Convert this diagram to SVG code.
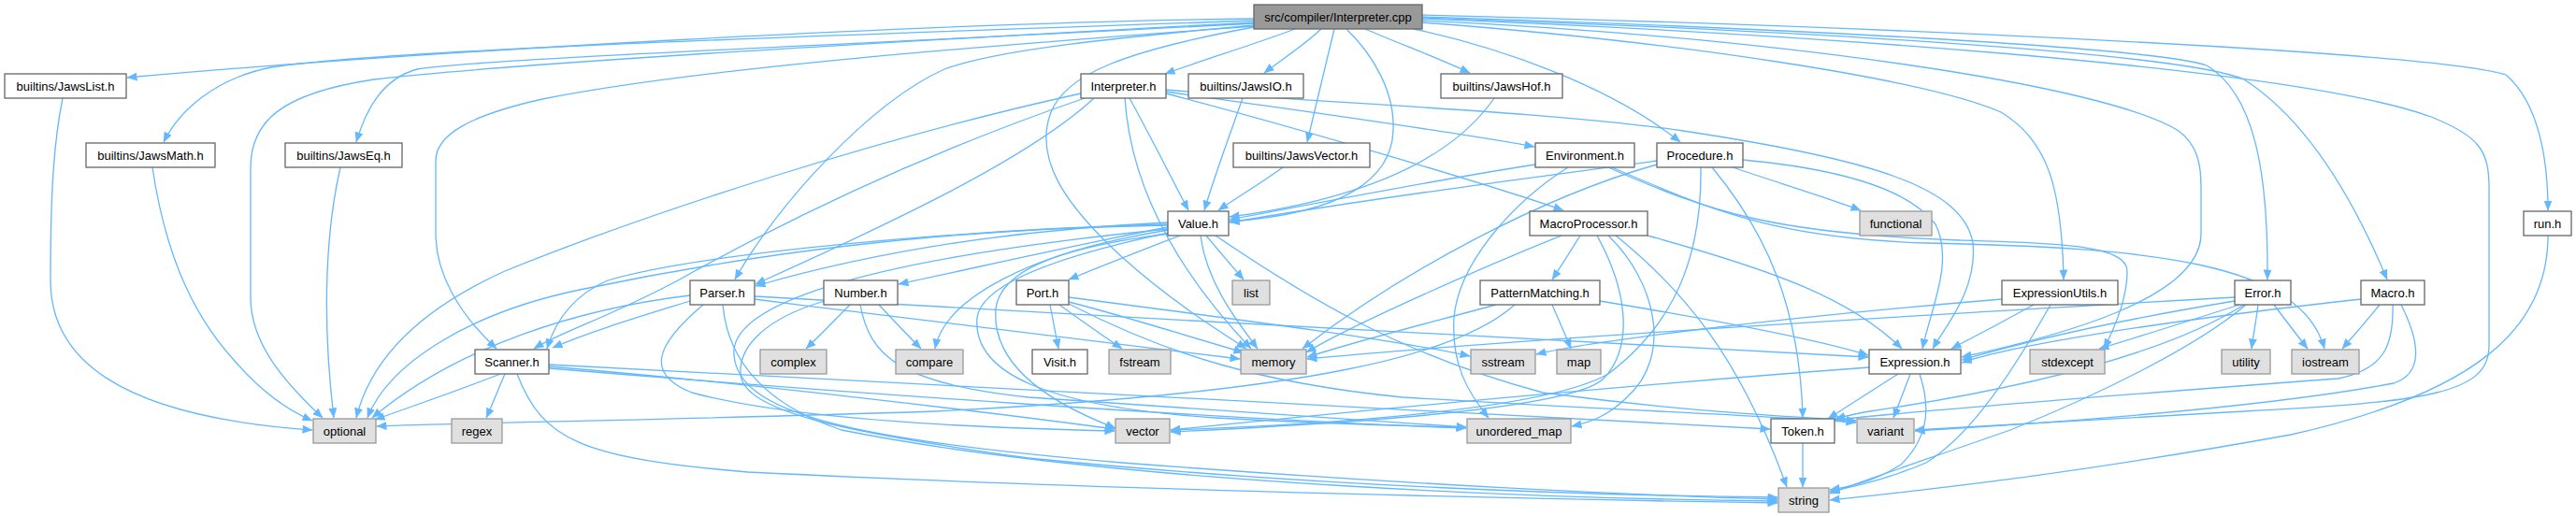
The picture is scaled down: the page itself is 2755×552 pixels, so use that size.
<svg xmlns="http://www.w3.org/2000/svg" width="2755" height="552" viewBox="0 0 2755 552">
<defs>
<style>
.n rect{fill:#ffffff;stroke:#666666;stroke-width:1.3}
.g rect{fill:#e0e0e0;stroke:#999999;stroke-width:1.3}
.r rect{fill:#999999;stroke:#666666;stroke-width:1.3}
text{font-family:"Liberation Sans",Arial,Helvetica,sans-serif;font-size:13px;text-anchor:middle;fill:#000000}
.e path{fill:none;stroke:#63b8ff;stroke-width:1.3;marker-end:url(#a)}
</style>
<marker id="a" viewBox="0 0 11 9" refX="10.5" refY="4.5" markerWidth="11" markerHeight="9" markerUnits="userSpaceOnUse" orient="auto"><path d="M0,0 L11,4.5 L0,9 z" fill="#63b8ff"/></marker>
</defs>
<rect width="2755" height="552" fill="#ffffff"/>
<g id="edges" class="e">
<path d="M1341,20 C1000,24 450,55 136,83"/>
<path d="M1341,22 C950,36 420,52 290,72 C230,84 192,118 175,152"/>
<path d="M1341,24 C1000,42 540,68 400,85 C300,100 268,130 268,180 L268,318 C268,365 300,405 345,447"/>
<path d="M1341,25 C1000,44 520,62 446,74 C410,84 392,115 381,152"/>
<path d="M1341,28 C1100,46 760,70 580,106 C500,124 466,145 466,172 L466,250 C466,292 490,335 531,373"/>
<path d="M1341,27 C1200,40 1070,52 1010,74 C930,110 830,220 786,299"/>
<path d="M1385,31 C1340,48 1290,63 1246,79"/>
<path d="M1413,31 C1395,48 1372,63 1352,78"/>
<path d="M1427,31 C1418,70 1408,110 1398,152"/>
<path d="M1440,31 C1470,60 1492,100 1490,140 C1488,190 1440,228 1315,237"/>
<path d="M1341,29 C1200,55 1140,80 1124,120 C1105,170 1140,220 1200,275 C1250,320 1300,352 1333,373"/>
<path d="M1460,31 C1500,48 1540,63 1572,78"/>
<path d="M1512,31 C1600,50 1720,90 1797,152"/>
<path d="M1521,24 C1800,45 2060,85 2140,120 C2190,150 2205,200 2207,299"/>
<path d="M1521,22 C1900,40 2250,90 2330,140 C2350,155 2354,175 2354,200 L2354,250 C2354,320 2200,360 2098,382"/>
<path d="M1521,18 C1900,30 2300,50 2360,70 C2410,100 2426,180 2425,299"/>
<path d="M1521,19 C1900,32 2330,55 2400,85 C2470,130 2520,220 2553,299"/>
<path d="M1521,20 C1900,35 2450,70 2600,125 C2650,145 2662,160 2662,200 L2662,370 C2662,420 2600,430 2400,440 C2250,448 2120,455 2048,460"/>
<path d="M1521,16 C2000,28 2600,55 2680,80 C2715,110 2725,170 2725,225"/>
<path d="M1156,100 C950,145 700,225 540,290 C440,335 395,390 381,447"/>
<path d="M1160,105 C1000,160 850,230 725,300 C650,340 600,355 571,373"/>
<path d="M1170,105 C1100,170 950,240 808,304"/>
<path d="M1208,105 C1230,145 1250,185 1271,225"/>
<path d="M1203,105 C1208,180 1240,270 1338,373"/>
<path d="M1247,98 C1400,120 1550,140 1641,157"/>
<path d="M1247,100 C1400,140 1600,200 1672,225"/>
<path d="M1247,96 C1400,110 1650,118 1800,140 C2000,170 2100,200 2110,260 C2115,310 2080,350 2067,373"/>
<path d="M67,105 C58,150 54,200 54,300 C54,380 120,445 334,460"/>
<path d="M163,179 C175,260 200,330 250,385 C280,420 310,440 334,450"/>
<path d="M364,179 C350,240 343,330 357,447"/>
<path d="M1329,105 C1315,145 1300,185 1288,225"/>
<path d="M1372,179 C1350,195 1325,210 1303,225"/>
<path d="M1598,105 C1560,160 1480,210 1315,232"/>
<path d="M1642,176 C1550,190 1420,215 1315,235"/>
<path d="M1677,179 C1620,215 1560,280 1555,340 C1552,390 1570,420 1592,447"/>
<path d="M1724,179 C1830,225 1900,255 2060,260 C2300,265 2460,280 2486,373"/>
<path d="M1720,179 C1830,228 1900,250 2096,257 C2200,260 2275,262 2275,290 C2275,320 2262,350 2250,373"/>
<path d="M1772,172 C1600,195 1450,215 1315,238"/>
<path d="M1772,176 C1650,210 1500,290 1393,373"/>
<path d="M1819,179 C1820,260 1800,340 1720,400 C1650,440 1400,455 1252,460"/>
<path d="M1831,179 C1890,250 1925,330 1928,447"/>
<path d="M1853,179 C1900,195 1950,210 1990,225"/>
<path d="M1864,171 C1960,180 2040,200 2070,240 C2090,280 2065,330 2056,373"/>
<path d="M1670,252 C1600,280 1450,345 1397,377"/>
<path d="M1690,252 C1680,268 1670,284 1660,299"/>
<path d="M1708,252 C1740,310 1748,370 1715,405 C1680,440 1400,455 1252,462"/>
<path d="M1720,252 C1770,300 1790,380 1740,425 C1720,445 1700,452 1681,456"/>
<path d="M1728,252 C1800,310 1860,380 1911,521"/>
<path d="M1762,252 C1900,290 1980,320 2034,373"/>
<path d="M1600,326 C1530,345 1450,365 1398,382"/>
<path d="M1620,326 C1560,380 1400,420 1000,440 C700,450 500,452 403,456"/>
<path d="M1660,326 C1667,342 1674,358 1680,373"/>
<path d="M1711,322 C1850,345 1950,365 1998,380"/>
<path d="M1249,238 C1100,245 950,265 808,306"/>
<path d="M1249,243 C1150,262 1050,285 961,304"/>
<path d="M1262,252 C1220,268 1180,284 1143,299"/>
<path d="M1290,252 C1303,268 1317,284 1330,299"/>
<path d="M1284,252 C1290,300 1320,340 1345,373"/>
<path d="M1249,240 C1050,245 760,268 650,300 C615,315 595,340 585,373"/>
<path d="M1249,241 C1000,245 800,272 620,310 C500,335 415,390 393,447"/>
<path d="M1250,246 C1100,270 1010,320 1000,373"/>
<path d="M1250,250 C1130,265 1070,290 1065,330 C1060,390 1120,430 1193,458"/>
<path d="M1249,245 C900,280 780,330 785,380 C790,440 900,470 1200,495 C1500,518 1750,530 1901,534"/>
<path d="M1250,249 C1150,270 1050,300 1045,340 C1040,400 1120,435 1300,447 C1450,455 1520,456 1568,457"/>
<path d="M1300,252 C1400,320 1500,380 1650,420 C1800,440 1900,445 1985,450"/>
<path d="M738,322 C680,340 630,355 591,372"/>
<path d="M738,316 C620,330 490,370 398,447"/>
<path d="M752,326 C700,370 690,400 740,420 C850,450 1050,458 1192,461"/>
<path d="M773,326 C778,380 810,430 900,460 C1200,520 1700,534 1901,536"/>
<path d="M807,320 C1000,345 1200,370 1326,384"/>
<path d="M807,317 C1200,340 1700,365 1998,382"/>
<path d="M909,326 C893,342 878,358 862,373"/>
<path d="M940,326 C955,342 970,358 985,373"/>
<path d="M882,322 C820,340 790,370 792,400 C795,440 900,462 1100,490 C1400,520 1700,530 1901,532"/>
<path d="M920,326 C930,380 960,410 1100,425 C1300,440 1500,452 1568,457"/>
<path d="M1123,326 C1126,342 1129,358 1132,373"/>
<path d="M1133,326 C1155,342 1178,358 1200,373"/>
<path d="M1143,323 C1210,340 1270,360 1330,377"/>
<path d="M1143,318 C1350,345 1500,365 1572,381"/>
<path d="M1143,325 C1250,380 1350,410 1500,425 C1750,440 1900,445 1985,452"/>
<path d="M535,400 C490,418 445,433 401,449"/>
<path d="M540,400 C533,416 527,432 520,447"/>
<path d="M553,400 C580,470 620,490 800,505 C1200,525 1700,535 1901,538"/>
<path d="M587,392 C800,410 1050,440 1192,459"/>
<path d="M587,390 C1000,410 1500,440 1893,459"/>
<path d="M587,394 C900,420 1300,448 1568,458"/>
<path d="M1999,393 C1700,415 1400,445 1252,460"/>
<path d="M2030,400 C2005,416 1980,432 1955,448"/>
<path d="M2043,400 C2037,416 2031,432 2025,447"/>
<path d="M2053,400 C2063,430 2066,465 2033,497 C2010,512 1985,520 1957,524"/>
<path d="M2141,320 C1900,340 1700,365 1643,379"/>
<path d="M2175,326 C2146,342 2116,358 2087,373"/>
<path d="M2193,326 C2140,420 2100,470 2060,495 C2020,512 1985,520 1957,526"/>
<path d="M2390,318 C2000,340 1600,365 1398,384"/>
<path d="M2390,322 C2250,345 2150,370 2098,385"/>
<path d="M2395,326 C2345,342 2295,358 2245,373"/>
<path d="M2415,326 C2413,342 2410,358 2408,373"/>
<path d="M2432,326 C2444,342 2456,358 2468,373"/>
<path d="M2400,326 C2330,370 2200,410 2000,440 C1985,442 1975,445 1963,448"/>
<path d="M2402,326 C2350,370 2250,420 2150,460 C2050,495 1990,515 1957,528"/>
<path d="M2525,320 C2300,345 2150,370 2098,388"/>
<path d="M2545,326 C2532,342 2518,358 2505,373"/>
<path d="M2559,326 C2560,370 2550,395 2500,405 C2300,420 2100,435 1963,449"/>
<path d="M2568,326 C2590,370 2590,400 2560,410 C2400,440 2150,455 2048,461"/>
<path d="M2725,252 C2725,350 2650,420 2450,465 C2200,510 2050,525 1957,535"/>
<path d="M1928,474 L1928,521"/>
</g>
<g id="n_cpp" class="r"><rect x="1341" y="5" width="180" height="26"/><text x="1431" y="22.5">src/compiler/Interpreter.cpp</text></g>
<g id="n_jawslist" class="n"><rect x="5" y="79" width="130" height="26"/><text x="70" y="96.5">builtins/JawsList.h</text></g>
<g id="n_interph" class="n"><rect x="1156" y="79" width="91" height="26"/><text x="1201.5" y="96.5">Interpreter.h</text></g>
<g id="n_jawsio" class="n"><rect x="1271" y="79" width="123" height="26"/><text x="1332.5" y="96.5">builtins/JawsIO.h</text></g>
<g id="n_jawshof" class="n"><rect x="1541" y="79" width="130" height="26"/><text x="1606" y="96.5">builtins/JawsHof.h</text></g>
<g id="n_jawsmath" class="n"><rect x="92" y="153" width="138" height="26"/><text x="161" y="170.5">builtins/JawsMath.h</text></g>
<g id="n_jawseq" class="n"><rect x="305" y="153" width="125" height="26"/><text x="367.5" y="170.5">builtins/JawsEq.h</text></g>
<g id="n_jawsvector" class="n"><rect x="1319" y="153" width="146" height="26"/><text x="1392" y="170.5">builtins/JawsVector.h</text></g>
<g id="n_env" class="n"><rect x="1642" y="153" width="106" height="26"/><text x="1695" y="170.5">Environment.h</text></g>
<g id="n_proc" class="n"><rect x="1772" y="153" width="92" height="26"/><text x="1818" y="170.5">Procedure.h</text></g>
<g id="n_value" class="n"><rect x="1249" y="226" width="65" height="26"/><text x="1281.5" y="243.5">Value.h</text></g>
<g id="n_macroproc" class="n"><rect x="1636" y="226" width="126" height="26"/><text x="1699" y="243.5">MacroProcessor.h</text></g>
<g id="n_functional" class="g"><rect x="1989" y="226" width="77" height="26"/><text x="2027.5" y="243.5">functional</text></g>
<g id="n_run" class="n"><rect x="2699" y="226" width="51" height="26"/><text x="2724.5" y="243.5">run.h</text></g>
<g id="n_parser" class="n"><rect x="738" y="300" width="69" height="26"/><text x="772.5" y="317.5">Parser.h</text></g>
<g id="n_number" class="n"><rect x="881" y="300" width="79" height="26"/><text x="920.5" y="317.5">Number.h</text></g>
<g id="n_port" class="n"><rect x="1087" y="300" width="56" height="26"/><text x="1115" y="317.5">Port.h</text></g>
<g id="n_list" class="g"><rect x="1318" y="300" width="40" height="26"/><text x="1338" y="317.5">list</text></g>
<g id="n_pattern" class="n"><rect x="1583" y="300" width="128" height="26"/><text x="1647" y="317.5">PatternMatching.h</text></g>
<g id="n_exprutils" class="n"><rect x="2141" y="300" width="124" height="26"/><text x="2203" y="317.5">ExpressionUtils.h</text></g>
<g id="n_error" class="n"><rect x="2390" y="300" width="60" height="26"/><text x="2420" y="317.5">Error.h</text></g>
<g id="n_macro" class="n"><rect x="2525" y="300" width="68" height="26"/><text x="2559" y="317.5">Macro.h</text></g>
<g id="n_scanner" class="n"><rect x="508" y="374" width="79" height="26"/><text x="547.5" y="391.5">Scanner.h</text></g>
<g id="n_complex" class="g"><rect x="813" y="374" width="71" height="26"/><text x="848.5" y="391.5">complex</text></g>
<g id="n_compare" class="g"><rect x="958" y="374" width="72" height="26"/><text x="994" y="391.5">compare</text></g>
<g id="n_visit" class="n"><rect x="1104" y="374" width="59" height="26"/><text x="1133.5" y="391.5">Visit.h</text></g>
<g id="n_fstream" class="g"><rect x="1186" y="374" width="66" height="26"/><text x="1219" y="391.5">fstream</text></g>
<g id="n_memory" class="g"><rect x="1327" y="374" width="70" height="26"/><text x="1362" y="391.5">memory</text></g>
<g id="n_sstream" class="g"><rect x="1573" y="374" width="69" height="26"/><text x="1607.5" y="391.5">sstream</text></g>
<g id="n_map" class="g"><rect x="1665" y="374" width="47" height="26"/><text x="1688.5" y="391.5">map</text></g>
<g id="n_expr" class="n"><rect x="1999" y="374" width="98" height="26"/><text x="2048" y="391.5">Expression.h</text></g>
<g id="n_stdexcept" class="g"><rect x="2171" y="374" width="80" height="26"/><text x="2211" y="391.5">stdexcept</text></g>
<g id="n_utility" class="g"><rect x="2376" y="374" width="52" height="26"/><text x="2402" y="391.5">utility</text></g>
<g id="n_iostream" class="g"><rect x="2451" y="374" width="72" height="26"/><text x="2487" y="391.5">iostream</text></g>
<g id="n_optional" class="g"><rect x="335" y="448" width="67" height="26"/><text x="368.5" y="465.5">optional</text></g>
<g id="n_regex" class="g"><rect x="483" y="448" width="54" height="26"/><text x="510" y="465.5">regex</text></g>
<g id="n_vector" class="g"><rect x="1193" y="448" width="58" height="26"/><text x="1222" y="465.5">vector</text></g>
<g id="n_umap" class="g"><rect x="1569" y="448" width="111" height="26"/><text x="1624.5" y="465.5">unordered_map</text></g>
<g id="n_token" class="n"><rect x="1894" y="448" width="68" height="26"/><text x="1928" y="465.5">Token.h</text></g>
<g id="n_variant" class="g"><rect x="1986" y="448" width="61" height="26"/><text x="2016.5" y="465.5">variant</text></g>
<g id="n_string" class="g"><rect x="1902" y="522" width="54" height="26"/><text x="1929" y="539.5">string</text></g>
</svg>
